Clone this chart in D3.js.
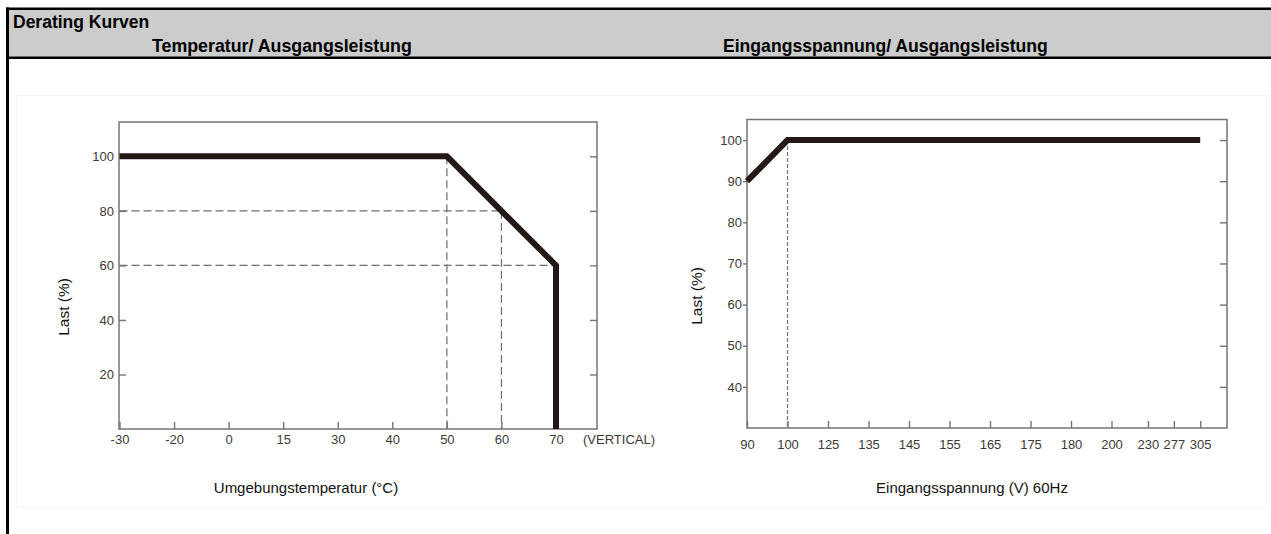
<!DOCTYPE html>
<html>
<head>
<meta charset="utf-8">
<script src="https://cdn.jsdelivr.net/npm/d3@7"></script>
<style>
  html, body { margin: 0; padding: 0; background: #ffffff; }
  svg { display: block; }
  text { font-family: "Liberation Sans", Arial, sans-serif; }
</style>
</head>
<body>
<svg id="chart" width="1271" height="534"></svg>
<script>
// ---------- DATA ----------
const pageTitle = "Derating Kurven";
const leftTitle = "Temperatur/ Ausgangsleistung";
const rightTitle = "Eingangsspannung/ Ausgangsleistung";

// Temperature derating
const tempTicks = [-30, -20, 0, 15, 30, 40, 50, 60, 70];
const tempLoadTicks = [20, 40, 60, 80, 100];
const tempCurveT = [-30, 50, 70, 70];
const tempCurveLoad = [100, 100, 60, 0];
const tempGuideT1 = [-30, -30, 50, 60];
const tempGuideL1 = [80, 60, 100, 80];
const tempGuideT2 = [60, 70, 50, 60];
const tempGuideL2 = [80, 60, 0, 0];
const tempXLabel = "Umgebungstemperatur  (°C)";
const tempXNote = "(VERTICAL)";
const yLabel = "Last (%)";

// Input voltage derating
const voltTicks = [90, 100, 125, 135, 145, 155, 165, 175, 180, 200, 230, 277, 305];
const voltSlots = [0, 1, 2, 3, 4, 5, 6, 7, 8, 9, 9.9, 10.54, 11.19]; // axis spacing (non-linear axis)
const voltLoadTicks = [40, 50, 60, 70, 80, 90, 100];
const voltCurveV = [90, 100, 305];
const voltCurveLoad = [90, 100, 100];
const voltGuideV = [100];
const voltXLabel = "Eingangsspannung  (V) 60Hz";

// ---------- DRAW ----------
const svg = d3.select("#chart");
const ink = "#231815";
const axisCol = "#747474";
const tickTextCol = "#3d3935";

// faint image boundary
svg.append("rect").attr("x", 16.5).attr("y", 95.5).attr("width", 1250).attr("height", 412)
  .attr("fill", "none").attr("stroke", "#f4f4f4").attr("stroke-width", 1);

// header band
svg.append("rect").attr("x", 6).attr("y", 9).attr("width", 1265).attr("height", 48).attr("fill", "#cccccc");
svg.append("line").attr("x1", 6).attr("x2", 1271).attr("y1", 8.75).attr("y2", 8.75)
  .attr("stroke", "#000").attr("stroke-width", 2.5);
svg.append("line").attr("x1", 6).attr("x2", 1271).attr("y1", 57.75).attr("y2", 57.75)
  .attr("stroke", "#000").attr("stroke-width", 2.5);
svg.append("line").attr("x1", 7.5).attr("x2", 7.5).attr("y1", 7.5).attr("y2", 534)
  .attr("stroke", "#000").attr("stroke-width", 3);

svg.append("text").attr("x", 13).attr("y", 28).attr("font-size", 17.5).attr("font-weight", "bold")
  .attr("fill", "#000").text(pageTitle);
svg.append("text").attr("x", 152).attr("y", 52).attr("font-size", 17.8).attr("font-weight", "bold")
  .attr("fill", "#000").text(leftTitle);
svg.append("text").attr("x", 723).attr("y", 52).attr("font-size", 17.6).attr("font-weight", "bold")
  .attr("fill", "#000").text(rightTitle);

function styleAxis(g) {
  g.select(".domain").remove();
  g.selectAll(".tick line").attr("stroke", axisCol).attr("stroke-width", 1.4);
  g.selectAll(".tick text").attr("fill", tickTextCol).attr("font-size", 13)
    .attr("font-family", "'Liberation Sans', Arial, sans-serif");
}

// ===== Left panel: temperature =====
{
  const L = 119, R = 597, T = 122, B = 429;
  const x = d3.scalePoint().domain(tempTicks).range([119.5, 556]);
  const y = d3.scaleLinear().domain([0, 112.6]).range([B, T]);
  const g = svg.append("g");

  // guides
  g.selectAll("line.guide").data(tempGuideT1).join("line").attr("class", "guide")
    .attr("x1", (d, i) => x(tempGuideT1[i])).attr("y1", (d, i) => y(tempGuideL1[i]))
    .attr("x2", (d, i) => x(tempGuideT2[i])).attr("y2", (d, i) => y(tempGuideL2[i]))
    .attr("stroke", "#6e6e6e").attr("stroke-width", 1.2).attr("stroke-dasharray", "8,4");

  // axes
  g.append("g").attr("transform", `translate(0,${B})`)
    .call(d3.axisBottom(x).tickSizeInner(-7).tickSizeOuter(0).tickPadding(6)).call(styleAxis);
  g.append("g").attr("transform", `translate(${L},0)`)
    .call(d3.axisLeft(y).tickValues(tempLoadTicks).tickSizeInner(-7).tickSizeOuter(0).tickPadding(5)).call(styleAxis);
  g.append("g").attr("transform", `translate(${R},0)`)
    .call(d3.axisRight(y).tickValues(tempLoadTicks).tickSizeInner(-7).tickSizeOuter(0).tickFormat("")).call(styleAxis);
  g.append("rect").attr("x", L).attr("y", T).attr("width", R - L).attr("height", B - T)
    .attr("fill", "none").attr("stroke", axisCol).attr("stroke-width", 1.5);

  // curve
  const line = d3.line().x((d, i) => x(tempCurveT[i])).y((d, i) => y(tempCurveLoad[i]));
  g.append("path").datum(tempCurveT).attr("d", line).attr("fill", "none")
    .attr("stroke", ink).attr("stroke-width", 6).attr("stroke-linejoin", "miter");

  g.append("text").attr("x", 619).attr("y", B + 6).attr("dy", "0.71em").attr("text-anchor", "middle")
    .attr("font-size", 13).attr("fill", tickTextCol).text(tempXNote);
  g.append("text").attr("transform", `translate(63.5,307) rotate(-90)`).attr("dy", "0.35em")
    .attr("text-anchor", "middle").attr("font-size", 15.5).attr("fill", "#111").text(yLabel);
  g.append("text").attr("x", 306).attr("y", 493).attr("text-anchor", "middle")
    .attr("font-size", 15).attr("fill", "#111").text(tempXLabel);
}

// ===== Right panel: voltage =====
{
  const L = 747, R = 1227, T = 119.5, B = 428;
  const step = 40.5;
  const x = d3.scaleLinear().domain(voltTicks).range(voltSlots.map(s => L + s * step));
  const y = d3.scaleLinear().domain([30, 105]).range([B, T]);
  const g = svg.append("g");

  g.selectAll("line.guide").data(voltGuideV).join("line").attr("class", "guide")
    .attr("x1", d => x(d)).attr("x2", d => x(d)).attr("y1", y(100)).attr("y2", y(30))
    .attr("stroke", "#7a7a7a").attr("stroke-width", 1.3).attr("stroke-dasharray", "4,2");

  g.append("g").attr("transform", `translate(0,${B})`)
    .call(d3.axisBottom(x).tickValues(voltTicks).tickFormat(d3.format("d")).tickSizeInner(-7).tickSizeOuter(0).tickPadding(12)).call(styleAxis);
  g.append("g").attr("transform", `translate(${L},0)`)
    .call(d3.axisLeft(y).tickValues(voltLoadTicks).tickSizeInner(4).tickSizeOuter(0).tickPadding(1)).call(styleAxis);
  g.append("g").attr("transform", `translate(${R},0)`)
    .call(d3.axisRight(y).tickValues(voltLoadTicks).tickSizeInner(-7).tickSizeOuter(0).tickFormat("")).call(styleAxis);
  g.append("rect").attr("x", L).attr("y", T).attr("width", R - L).attr("height", B - T)
    .attr("fill", "none").attr("stroke", axisCol).attr("stroke-width", 1.5);

  const line = d3.line().x((d, i) => x(voltCurveV[i])).y((d, i) => y(voltCurveLoad[i]));
  g.append("path").datum(voltCurveV).attr("d", line).attr("fill", "none")
    .attr("stroke", ink).attr("stroke-width", 6).attr("stroke-linejoin", "miter");

  g.append("text").attr("transform", `translate(697,296) rotate(-90)`).attr("dy", "0.35em")
    .attr("text-anchor", "middle").attr("font-size", 15.5).attr("fill", "#111").text(yLabel);
  g.append("text").attr("x", 972).attr("y", 493).attr("text-anchor", "middle")
    .attr("font-size", 15).attr("fill", "#111").text(voltXLabel);
}
</script>
</body>
</html>
